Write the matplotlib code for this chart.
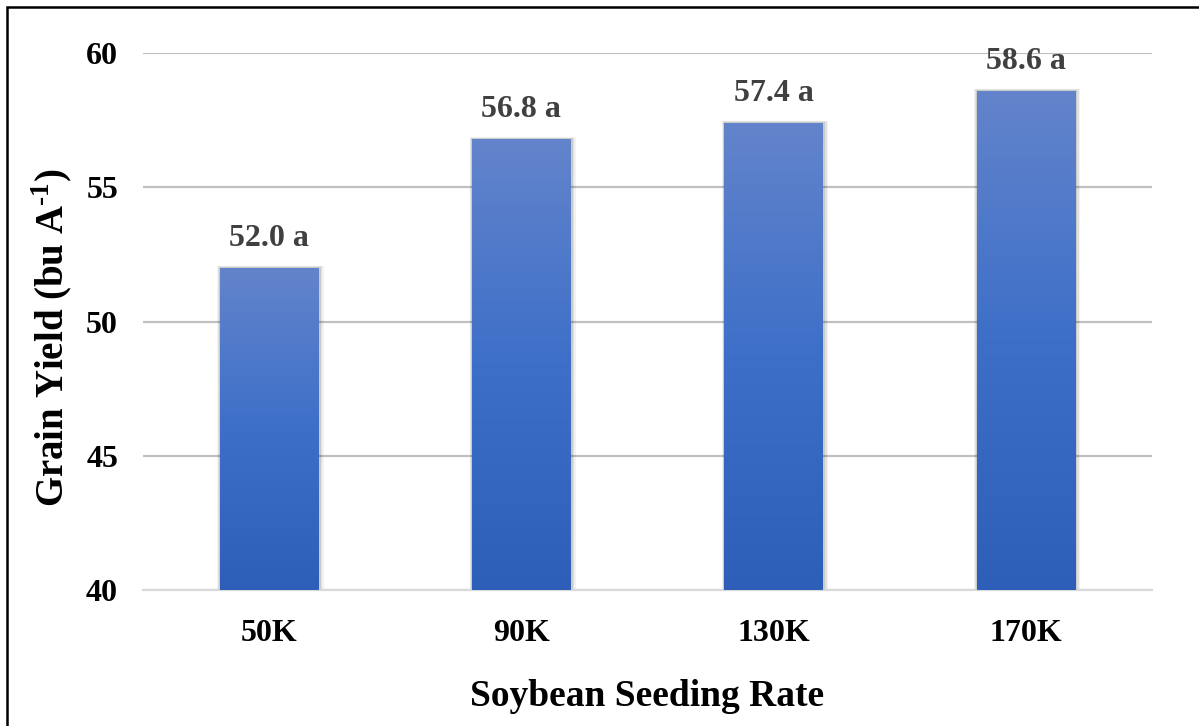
import matplotlib
matplotlib.use("Agg")
import matplotlib.pyplot as plt
import numpy as np
from matplotlib.colors import LinearSegmentedColormap
from matplotlib.patches import Rectangle

plt.rcParams['font.family'] = ['Liberation Serif', 'DejaVu Serif']
plt.rcParams['font.weight'] = 'bold'
plt.rcParams['mathtext.fontset'] = 'custom'
plt.rcParams['mathtext.rm'] = 'Liberation Serif:bold'
plt.rcParams['mathtext.bf'] = 'Liberation Serif:bold'

rates = ['50K', '90K', '130K', '170K']
yields = [52.0, 56.8, 57.4, 58.6]
letters = ['a', 'a', 'a', 'a']

fig = plt.figure(figsize=(11.99, 7.26), dpi=100)
ax = fig.add_axes([0.1193, 0.1873, 0.8415, 0.7397])

x = np.arange(len(rates))
bars = ax.bar(x, yields, width=0.39, bottom=0, color='none', zorder=3)

# blue gradient fill, lighter at the top
cmap = LinearSegmentedColormap.from_list('bluegrad', ['#2e5fb8', '#3d6fc8', '#6384cb'])
grad = np.linspace(0, 1, 256).reshape(-1, 1)
for i, b in enumerate(bars):
    x0, w, h = b.get_x(), b.get_width(), b.get_height()
    # soft shadow
    for k, a in zip([0.035, 0.025, 0.015], [0.05, 0.07, 0.09]):
        ax.add_patch(Rectangle((x0 - k * 0.3, 40), w + k * 0.9, h - 40 + k * 2,
                               facecolor='black', alpha=a, lw=0, zorder=2))
    im = ax.imshow(grad, extent=[x0, x0 + w, 40, h], origin='lower', aspect='auto',
                   cmap=cmap, zorder=3)
    im.set_clip_path(b)
    ax.text(x0 + w / 2, h + 0.55, f'{h:.1f} {letters[i]}',
            ha='center', va='bottom', fontsize=23, fontweight='bold', color='#404040')

ax.set_aspect('auto')
ax.set_xlim(-0.5, len(rates) - 0.5)
ax.set_ylim(40, 60)

ax.set_yticks([40, 45, 50, 55, 60])
ax.set_xticks(x)
ax.set_xticklabels(rates)
ax.tick_params(axis='both', length=0, labelsize=23)
ax.tick_params(axis='y', pad=18)
ax.tick_params(axis='x', pad=21)
ax.grid(axis='y', color='#c0c0c0', linewidth=1.6, zorder=0)
ax.set_axisbelow(True)
for s in ['top', 'right', 'left']:
    ax.spines[s].set_visible(False)
ax.spines['bottom'].set_color('#d9d9d9')
ax.spines['bottom'].set_linewidth(1.6)

ax.set_xlabel('Soybean Seeding Rate', fontsize=27, fontweight='bold', labelpad=22)
ax.set_ylabel(r'Grain Yield (bu A$^{\text{-1}}$)', fontsize=28, fontweight='bold')
ax.yaxis.set_label_coords(-0.067, 0.47)

# outer frame
fig.patches.append(Rectangle((7 / 1199, -0.1), 1.2, 1 - 7 / 726 + 0.1,
                             transform=fig.transFigure, fill=False,
                             edgecolor='black', linewidth=1.8))

fig.savefig('out.png', dpi=100)
